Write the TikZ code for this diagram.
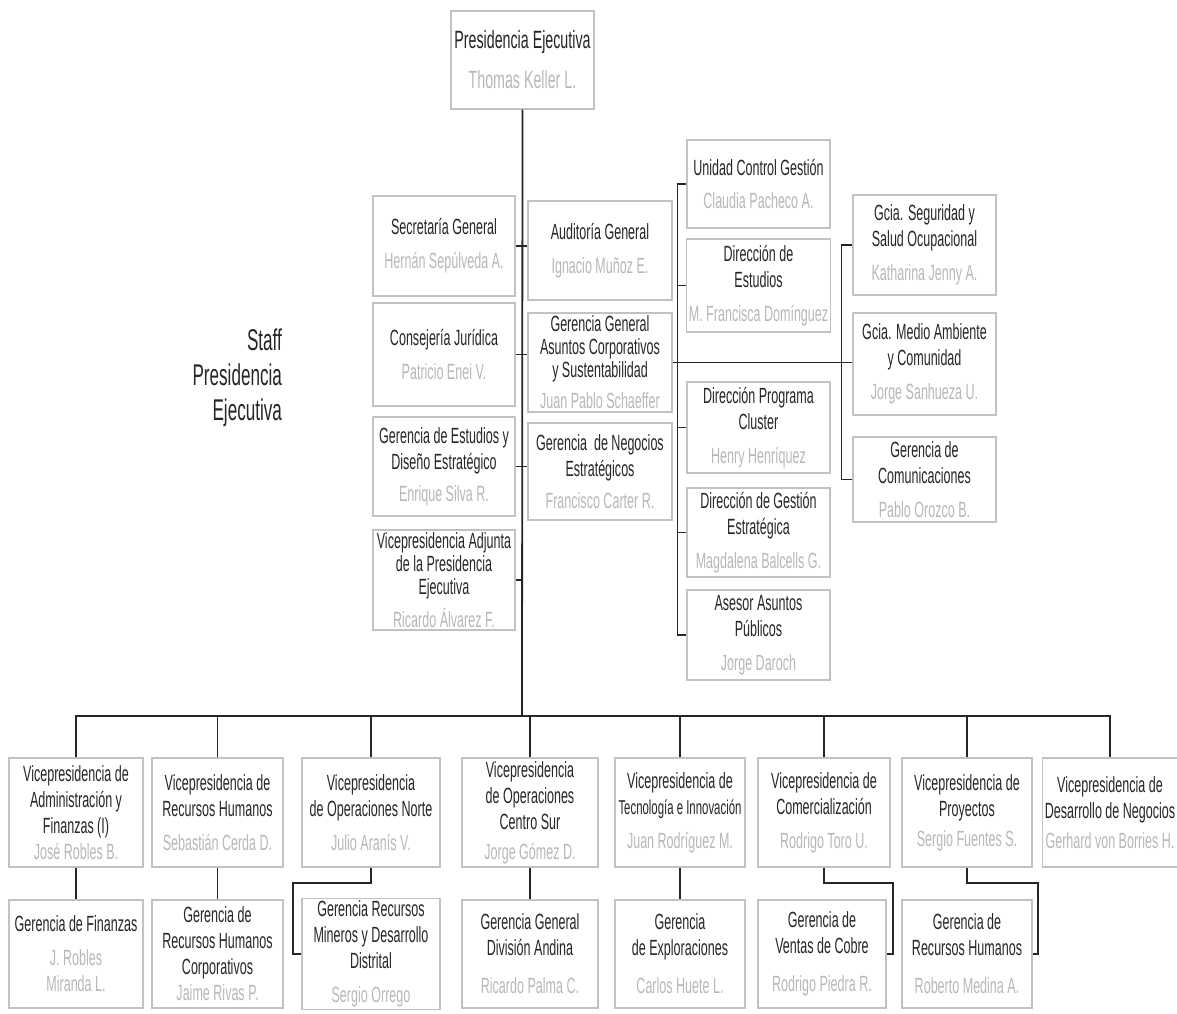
\documentclass[tikz,border=0pt]{standalone}
\usepackage{fontspec}
\usepackage{tikz}
\usetikzlibrary{calc}
\newfontfamily\orgfont[FakeStretch=0.57]{Liberation Sans}
\definecolor{namegray}{gray}{0.72}
\definecolor{boxgray}{gray}{0.76}
\def\nm#1{{\color{namegray}#1}}
\tikzset{
	orgbox/.style 2 args={draw=boxgray, fill=white, line width=0.6pt, align=center, inner sep=1pt,
		minimum width=#1*0.5pt, minimum height=#2*0.5pt, text=black!85,
		font=\orgfont\fontsize{11}{13}\selectfont},
	tight/.style={font=\orgfont\fontsize{11}{11.5}\selectfont},
	conn/.style={line width=0.9pt, color=black!85},
}

\begin{document}
\begin{tikzpicture}[x=0.5pt, y=-0.5pt]
			%%%%% START %%%%%
			\useasboundingbox (0,0) rectangle (1177,1013);
			
			\node[orgbox={143}{98}, font=\orgfont\fontsize{12.5}{15}\selectfont] (pres) at (522.5,60) {Presidencia Ejecutiva\\[5pt]\nm{Thomas Keller L.}};
			\coordinate (bus) at (522,716);
			
			\node[align=right, anchor=east, text=black!85, font=\orgfont\fontsize{15}{17.5}\selectfont] (staff) at (289,378) {Staff\\Presidencia\\Ejecutiva};
			
			%%%%% STAFF, LEFT %%%%%
			\node[orgbox={142}{100}] (sec) at (444,246) {Secretaría General\\[4pt]\nm{Hernán Sepúlveda A.}};
			\node[orgbox={142}{103}] (cons) at (444,354.5) {Consejería Jurídica\\[4pt]\nm{Patricio Enei V.}};
			\node[orgbox={142}{99}] (gest) at (444,466.5) {Gerencia de Estudios y\\Diseño Estratégico\\[3pt]\nm{Enrique Silva R.}};
			\node[orgbox={142}{100}, tight] (vpadj) at (444,580) {Vicepresidencia Adjunta\\de la Presidencia\\Ejecutiva\\[4pt]\nm{Ricardo Álvarez F.}};
			
			%%%%% STAFF, MIDDLE %%%%%
			\node[orgbox={144}{99}] (aud) at (600,250.5) {Auditoría General\\[4pt]\nm{Ignacio Muñoz E.}};
			\node[orgbox={144}{99}, tight] (ggac) at (600,362.5) {Gerencia General\\Asuntos Corporativos\\y Sustentabilidad\\[4pt]\nm{Juan Pablo Schaeffer}};
			\node[orgbox={144}{97}] (gne) at (600,471.5) {Gerencia\ \ de Negocios\\Estratégicos\\[3pt]\nm{Francisco Carter R.}};
			
			%%%%% DIRECCIONES %%%%%
			\node[orgbox={143}{88}] (ucg) at (758.5,184) {Unidad Control Gestión\\[4pt]\nm{Claudia Pacheco A.}};
			\node[orgbox={143}{93}] (dest) at (758.5,285.5) {Dirección de\\Estudios\\[4pt]\nm{M. Francisca Domínguez}};
			\node[orgbox={143}{91}] (dpc) at (758.5,427.5) {Dirección Programa\\Cluster\\[4pt]\nm{Henry Henríquez}};
			\node[orgbox={143}{89}] (dge) at (758.5,532.5) {Dirección de Gestión\\Estratégica\\[4pt]\nm{Magdalena Balcells G.}};
			\node[orgbox={143}{90}] (aap) at (758.5,635) {Asesor Asuntos\\Públicos\\[4pt]\nm{Jorge Daroch}};
			
			%%%%% GERENCIAS, RIGHT %%%%%
			\node[orgbox={143}{100}] (gseg) at (924.5,245) {Gcia. Seguridad y\\Salud Ocupacional\\[4pt]\nm{Katharina Jenny A.}};
			\node[orgbox={143}{102}] (gma) at (924.5,364) {Gcia. Medio Ambiente\\y Comunidad\\[4pt]\nm{Jorge Sanhueza U.}};
			\node[orgbox={143}{85}] (gcom) at (924.5,479.5) {Gerencia de\\Comunicaciones\\[4pt]\nm{Pablo Orozco B.}};
			
			%%%%% VICEPRESIDENCIAS %%%%%
			\node[orgbox={134}{109}] (vpaf) at (76,812.5) {Vicepresidencia de\\Administración y\\Finanzas (I)\\\nm{José Robles B.}};
			\node[orgbox={131}{109}] (vprh) at (217.5,812.5) {Vicepresidencia de\\Recursos Humanos\\[4pt]\nm{Sebastián Cerda D.}};
			\node[orgbox={138}{109}] (vpon) at (371,812.5) {Vicepresidencia\\de Operaciones Norte\\[4pt]\nm{Julio Aranís V.}};
			\node[orgbox={136}{109}] (vpcs) at (530,812.5) {Vicepresidencia\\de Operaciones\\Centro Sur\\[2pt]\nm{Jorge Gómez D.}};
			\node[orgbox={130}{109}] (vpti) at (680,812.5) {Vicepresidencia de\\{\fontsize{10}{13}\selectfont Tecnología e Innovación}\\[4pt]\nm{Juan Rodríguez M.}};
			\node[orgbox={132}{109}] (vpco) at (824,812.5) {Vicepresidencia de\\Comercialización\\[4pt]\nm{Rodrigo Toro U.}};
			\node[orgbox={130}{109}] (vppr) at (967,812.5) {Vicepresidencia de\\Proyectos\\[2pt]\nm{Sergio Fuentes S.}};
			\node[orgbox={128}{109}] (vpdn) at (1110,812.5) {Vicepresidencia de\\Desarrollo de Negocios\\[2pt]\nm{Gerhard von Borries H.}};
			
			%%%%% GERENCIAS, BOTTOM %%%%%
			\node[orgbox={134}{108}] (gfin) at (76,954) {Gerencia de Finanzas\\[4pt]\nm{J. Robles}\\\nm{Miranda L.}};
			\node[orgbox={131}{108}] (grhc) at (217.5,954) {Gerencia de\\Recursos Humanos\\Corporativos\\\nm{Jaime Rivas P.}};
			\node[orgbox={138}{108}] (grmd) at (371,954) {Gerencia Recursos\\Mineros y Desarrollo\\Distrital\\[4pt]\nm{Sergio Orrego}};
			\node[orgbox={136}{108}] (ggda) at (530,954) {Gerencia General\\División Andina\\[6pt]\nm{Ricardo Palma C.}};
			\node[orgbox={130}{108}] (gexp) at (680,954) {Gerencia\\de Exploraciones\\[6pt]\nm{Carlos Huete L.}};
			\node[orgbox={128}{108}] (gvc) at (822,954) {Gerencia de\\Ventas de Cobre\\[6pt]\nm{Rodrigo Piedra R.}};
			\node[orgbox={130}{108}] (grhp) at (967,954) {Gerencia de\\Recursos Humanos\\[6pt]\nm{Roberto Medina A.}};
			
			%%%%% LINES %%%%%
			\draw[conn] (pres.south) -- (bus);
			\draw[conn] (sec.east) -- (sec.east -| aud.west);
			\draw[conn] (cons.east) -- (cons.east -| ggac.west);
			\draw[conn] (gest.east) -- (gest.east -| gne.west);
			\draw[conn] (vpadj.east) -- (vpadj.east -| pres.south);
			
			\draw[conn] (ucg.west) -- ++(-9,0) |- (aap.west);
			\foreach \n in {dest,dpc,dge}
				\draw[conn] (\n.west) -- ++(-9,0);
			\draw[conn] (ggac.east) -- (ggac.east -| gma.west);
			\draw[conn] (gseg.west) -- ++(-11,0) |- (gcom.west);
			
			\draw[conn] (vpaf.north) |- (bus) -| (vpdn.north);
			\foreach \n in {vprh,vpon,vpcs,vpti,vpco,vppr}
				\draw[conn] (\n.north) -- (\n.north |- bus);
			\foreach \n/\m in {vpaf/gfin,vprh/grhc,vpcs/ggda,vpti/gexp}
				\draw[conn] (\n.south) -- (\m.north);
			
			\coordinate (elbN) at (293,883);
			\coordinate (elbC) at (893,883);
			\coordinate (elbP) at (1038,883);
			\draw[conn] (vpon.south) |- (elbN) |- (grmd.west);
			\draw[conn] (vpco.south) |- (elbC) |- (gvc.east);
			\draw[conn] (vppr.south) |- (elbP) |- (grhp.east);
			
			%%%%% END %%%%%
\end{tikzpicture}
\end{document}
